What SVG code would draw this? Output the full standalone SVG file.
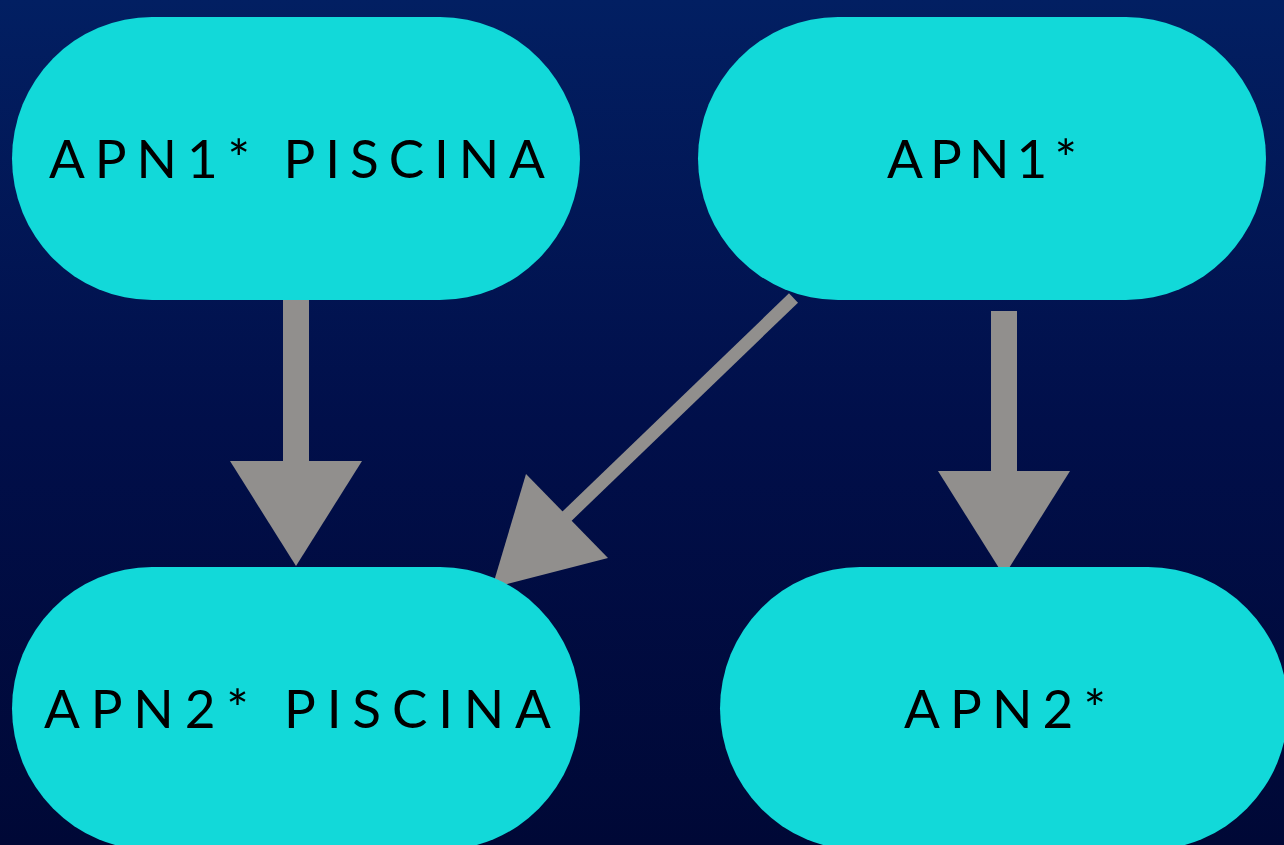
<svg xmlns="http://www.w3.org/2000/svg" width="1284" height="845" viewBox="0 0 1284 845">
  <defs>
    <linearGradient id="bg" x1="0" y1="0" x2="0" y2="1">
      <stop offset="0" stop-color="#021F62"/>
      <stop offset="0.5" stop-color="#010F4A"/>
      <stop offset="1" stop-color="#000836"/>
    </linearGradient>
    <style>
      .node { fill: #12D9D9; }
      .label { font-family: "Lato", "Open Sans", "Liberation Sans", sans-serif; font-size: 53px; font-weight: 400; fill: #000000; text-anchor: start; }
      .shaft { fill: none; stroke: #918F8D; }
      .head { fill: #918F8D; }
    </style>
  </defs>
  <rect x="0" y="0" width="1284" height="845" fill="url(#bg)"/>

  <g id="connectors">
    <!-- APN1* PISCINA -> APN2* PISCINA -->
    <line class="shaft" x1="296" y1="300" x2="296" y2="463" stroke-width="26"/>
    <polygon class="head" points="230,461 362,461 296,566"/>
    <!-- APN1* -> APN2* PISCINA -->
    <line class="shaft" x1="793.5" y1="298" x2="563" y2="520" stroke-width="13"/>
    <polygon class="head" points="526,474 608,558 492,588"/>
    <!-- APN1* -> APN2* -->
    <line class="shaft" x1="1004" y1="311" x2="1004" y2="473" stroke-width="26"/>
    <polygon class="head" points="938,471 1070,471 1004,576"/>
  </g>

  <g id="node-apn1-piscina">
    <rect class="node" x="12" y="17" width="568" height="283" rx="140" ry="141.5"/>
    <text class="label" x="49" y="178" textLength="496" lengthAdjust="spacing">APN1* PISCINA</text>
  </g>
  <g id="node-apn1">
    <rect class="node" x="698" y="17" width="568" height="283" rx="140" ry="141.5"/>
    <text class="label" x="887" y="178" textLength="190" lengthAdjust="spacing">APN1*</text>
  </g>
  <g id="node-apn2-piscina">
    <rect class="node" x="12" y="567" width="568" height="283" rx="140" ry="141.5"/>
    <text class="label" x="44" y="728" textLength="507" lengthAdjust="spacing">APN2* PISCINA</text>
  </g>
  <g id="node-apn2">
    <rect class="node" x="720" y="567" width="568" height="283" rx="140" ry="141.5"/>
    <text class="label" x="904" y="728" textLength="202" lengthAdjust="spacing">APN2*</text>
  </g>
</svg>
